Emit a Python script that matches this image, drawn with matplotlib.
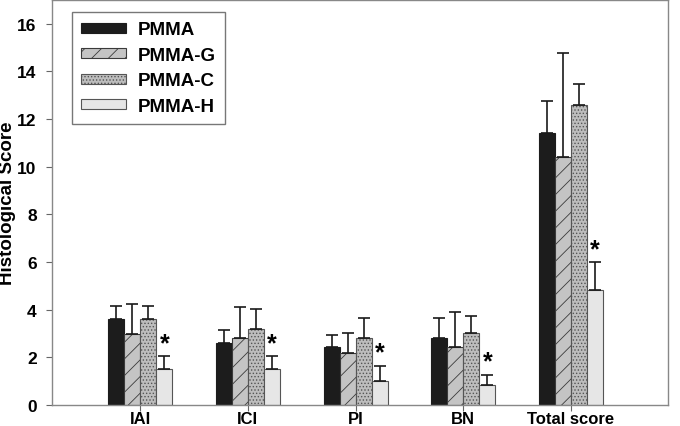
import matplotlib
matplotlib.use("Agg")
import matplotlib.pyplot as plt
from matplotlib.patches import Patch
import numpy as np

categories = ["IAI", "ICI", "PI", "BN", "Total score"]
series = ["PMMA", "PMMA-G", "PMMA-C", "PMMA-H"]
pmma = [3.6, 2.6, 2.42, 2.8, 11.4]
pmma_g = [3.0, 2.8, 2.2, 2.42, 10.4]
pmma_c = [3.6, 3.2, 2.8, 3.03, 12.6]
pmma_h = [1.5, 1.5, 1.0, 0.85, 4.83]
err_pmma = [0.56, 0.57, 0.54, 0.84, 1.35]
err_pmma_g = [1.26, 1.32, 0.84, 1.5, 4.36]
err_pmma_c = [0.56, 0.85, 0.84, 0.7, 0.87]
err_pmma_h = [0.55, 0.55, 0.65, 0.42, 1.17]
yticks = [0, 2, 4, 6, 8, 10, 12, 14, 16]

plt.rcParams['font.family'] = ['Liberation Sans', 'DejaVu Sans']
plt.rcParams['font.weight'] = 'bold'
plt.rcParams['hatch.linewidth'] = 0.6

fig = plt.figure(figsize=(6.8, 4.27), dpi=100)
ax = fig.add_axes([0.0765, 0.049, 0.9055, 0.949])

x = np.arange(len(categories))
w = 0.149
vals = [pmma, pmma_g, pmma_c, pmma_h]
errs = [err_pmma, err_pmma_g, err_pmma_c, err_pmma_h]
faces = ['#1c1c1c', '#c4c4c4', '#bdbdbd', '#e6e6e6']
hatches = [None, '//', '.....', None]
edges = ['#1c1c1c', '#3a3a3a', '#555555', '#555555']

handles = []
for i, (v, e) in enumerate(zip(vals, errs)):
    pos = x + (i - 1.5) * w
    ax.bar(pos, v, width=w, color=faces[i], edgecolor=edges[i], hatch=hatches[i],
           linewidth=0.8, zorder=2)
    ax.errorbar(pos, v, yerr=[np.zeros(len(v)), e], fmt='none', ecolor='#1a1a1a',
                elinewidth=1.2, capsize=4, capthick=1.2, zorder=3)
    handles.append(Patch(facecolor=faces[i], edgecolor=edges[i], hatch=hatches[i],
                         linewidth=0.8, label=series[i]))

# significance asterisks on PMMA-H
posh = x + 1.5 * w
for p, v, e in zip(posh, pmma_h, err_pmma_h):
    ax.text(p, v + e + 0.05, '*', ha='center', va='bottom', fontsize=18, fontweight='bold')

ax.set_xlim(-0.82, 4.9)
ax.set_ylim(0, 17)
ax.set_yticks(yticks)
ax.set_xticks(x)
ax.set_xticklabels(categories, fontsize=12, fontweight='bold')
ax.tick_params(axis='y', labelsize=12.5, length=4, color='#666666', pad=7)
ax.tick_params(axis='x', length=4, color='#666666', pad=0.5)
for lab in ax.get_yticklabels():
    lab.set_fontweight('bold')
ax.set_ylabel('Histological Score', fontsize=13.5, fontweight='bold', labelpad=1)
for s in ax.spines.values():
    s.set_color('#888888')
    s.set_linewidth(1.0)

leg = ax.legend(handles=handles, loc='upper left', bbox_to_anchor=(0.032, 0.97),
                borderaxespad=0, fontsize=13.5, handlelength=2.4, handleheight=0.45,
                frameon=True, fancybox=False, edgecolor='#555555', borderpad=0.5,
                labelspacing=0.45, handletextpad=0.6)
leg.get_frame().set_linewidth(1.0)
for t in leg.get_texts():
    t.set_fontweight('bold')

fig.savefig('out.png', dpi=100)
